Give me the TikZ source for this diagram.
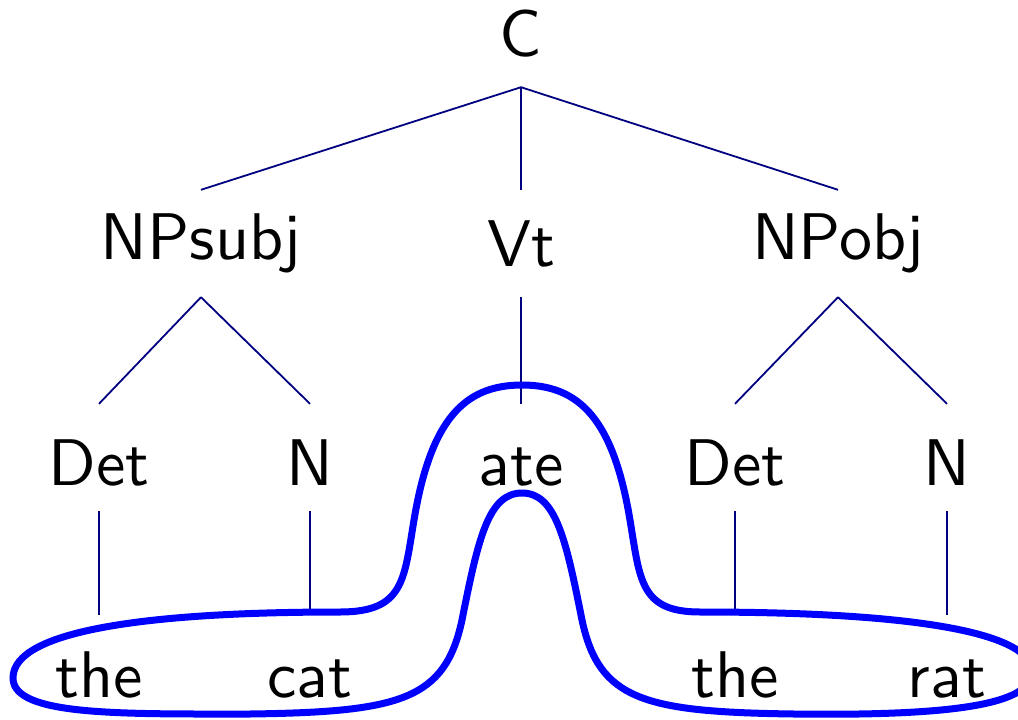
\documentclass[tikz,border=0pt]{standalone}
\usepackage{graphicx}
\newcommand\bigword[1]{\scalebox{6.6}{\fontsize{10}{12}\selectfont\sffamily #1}}
\begin{document}
\begin{tikzpicture}[x=1pt,y=-1pt,
  tn/.style={minimum height=107pt, inner sep=0pt, anchor=center},
  rowtwo/.style={tn, text height=55pt, text depth=0pt},
  rowthree/.style={tn, text height=57pt, text depth=0pt},
  edge/.style={draw=blue!50!black, line width=1.8pt},
  loop/.style={draw=blue, line width=7pt}]
\useasboundingbox (0,0) rectangle (1018,720);
\clip (0,0) rectangle (1018,720);
% row 0
\node[tn] (C) at (521,33.5) {\bigword{C}};
% row 1
\node[tn] (NPs) at (201,243.5) {\bigword{NPsubj}};
\node[tn] (Vt) at (521,243.5) {\bigword{Vt}};
\node[tn] (NPo) at (838,243.5) {\bigword{NPobj}};
% row 2
\node[rowtwo] (Det1) at (99,457.5) {\bigword{Det}};
\node[rowtwo] (N1) at (310,457.5) {\bigword{N}};
\node[rowtwo] (ate) at (521,457.5) {\bigword{ate}};
\node[rowtwo] (Det2) at (735,457.5) {\bigword{Det}};
\node[rowtwo] (N2) at (947,457.5) {\bigword{N}};
% row 3
\node[rowthree] (the1) at (99,668.5) {\bigword{the}};
\node[rowthree] (cat) at (310,668.5) {\bigword{cat}};
\node[rowthree] (the2) at (735,668.5) {\bigword{the}};
\node[rowthree] (rat) at (947,668.5) {\bigword{rat}};
% edges
\draw[edge] (C.south) -- (NPs.north);
\draw[edge] (C.south) -- (Vt.north);
\draw[edge] (C.south) -- (NPo.north);
\draw[edge] (NPs.south) -- (Det1.north);
\draw[edge] (NPs.south) -- (N1.north);
\draw[edge] (Vt.south) -- (ate.north);
\draw[edge] (NPo.south) -- (Det2.north);
\draw[edge] (NPo.south) -- (N2.north);
\draw[edge] (Det1.south) -- (the1.north);
\draw[edge] (N1.south) -- (cat.north);
\draw[edge] (Det2.south) -- (the2.north);
\draw[edge] (N2.south) -- (rat.north);
% blue loop
\draw[loop] (340,612)
  .. controls (150,612) and (13,630) .. (13,678)
  .. controls (13,716) and (120,714) .. (250,714)
  .. controls (400,712) and (445,700) .. (462,620)
  .. controls (478,540) and (488,493) .. (522,493)
  .. controls (556,493) and (566,540) .. (582,620)
  .. controls (599,700) and (644,712) .. (794,714)
  .. controls (950,716) and (1032,705) .. (1032,672)
  .. controls (1032,630) and (900,612) .. (700,612)
  .. controls (640,612) and (640,580) .. (630,520)
  .. controls (613.3,420) and (580,385) .. (522,385)
  .. controls (464,385) and (430.7,420) .. (414,520)
  .. controls (404,580) and (404,612) .. (340,612) -- cycle;
\end{tikzpicture}
\end{document}
